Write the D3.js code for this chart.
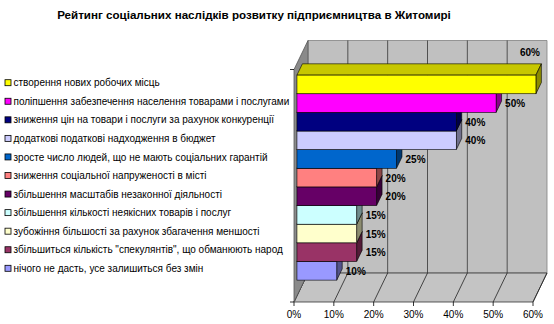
<!DOCTYPE html>
<html><head><meta charset="utf-8">
<script src="https://cdn.jsdelivr.net/npm/d3@7"></script>
<style>body{margin:0;background:#fff}svg{display:block}</style>
</head><body>
<script>
const categories = [
  "створення нових робочих місць",
  "поліпшення забезпечення населення товарами і послугами",
  "зниження цін на товари і послуги за рахунок конкуренції",
  "додаткові податкові надходження в бюджет",
  "зросте число людей, що не мають соціальних гарантій",
  "зниження соціальної напруженості в місті",
  "збільшення масштабів незаконної діяльності",
  "збільшення кількості неякісних товарів і послуг",
  "зубожіння більшості за рахунок збагачення меншості",
  "збільшиться кількість \"спекулянтів\", що обманюють народ",
  "нічого не дасть, усе залишиться без змін"
];
const values = [60, 50, 40, 40, 25, 20, 20, 15, 15, 15, 10];
const colors = ["#FFFF00","#FF00FF","#000080","#CCCCFF","#0066CC","#FF8080","#660066","#CCFFFF","#FFFFCC","#993366","#9999FF"];
const tickValues = [0, 10, 20, 30, 40, 50, 60];
const tickLabels = ["0%", "10%", "20%", "30%", "40%", "50%", "60%"];
const title = "Рейтинг соціальних наслідків розвитку підприємництва в Житомирі";

const Wd = 554, Ht = 324;
const svg = d3.select("body").append("svg").attr("width", Wd).attr("height", Ht);
const font = "Arial, 'Liberation Sans', sans-serif";

// 3D layout
const X0 = 294, Y0 = 302, PW = 239, H = 232.5, DX = 14, DY = -29;
const x = d3.scaleLinear().domain([0, 60]).range([X0, X0 + PW]);
const y = d3.scaleBand().domain(categories).range([81.2, 286.2]).padding(0);
const fFront = 0.21, fBack = 0.6;

svg.append("text").attr("x", 254).attr("y", 19).attr("text-anchor", "middle")
  .attr("font-family", font).attr("font-weight", "bold").attr("font-size", 11.6)
  .text(title);

const pts = a => a.map(p => p.join(",")).join(" ");
// back wall
svg.append("polygon").attr("points", pts([[X0+DX, Y0+DY],[X0+PW+DX, Y0+DY],[X0+PW+DX, Y0+DY-H],[X0+DX, Y0+DY-H]]))
  .attr("fill", "#C0C0C0").attr("stroke", "#808080").attr("stroke-width", 0.8);
svg.selectAll(".vg").data(tickValues.slice(1, -1)).join("line")
  .attr("x1", d => x(d)+DX).attr("x2", d => x(d)+DX).attr("y1", Y0+DY).attr("y2", Y0+DY-H)
  .attr("stroke", "#333").attr("stroke-width", 0.8);
// floor
svg.append("polygon").attr("points", pts([[X0, Y0],[X0+PW, Y0],[X0+PW+DX, Y0+DY],[X0+DX, Y0+DY]]))
  .attr("fill", "#C4C4C4").attr("stroke", "#333").attr("stroke-width", 0.8);
svg.selectAll(".fg").data(tickValues).join("line")
  .attr("x1", d => x(d)).attr("x2", d => x(d)+DX).attr("y1", Y0).attr("y2", Y0+DY)
  .attr("stroke", "#222").attr("stroke-width", 0.8);
// left wall
svg.append("polygon").attr("points", pts([[X0, Y0],[X0, Y0-H],[X0+DX, Y0+DY-H],[X0+DX, Y0+DY]]))
  .attr("fill", "#8A8A8A").attr("stroke", "#555").attr("stroke-width", 0.8);

// bars, painted bottom to top
const idx = d3.range(values.length).reverse();
const g = svg.append("g");
idx.forEach(i => {
  const v = values[i], c = d3.color(colors[i]);
  const ox = fFront*DX, oy = fFront*DY;
  const bx = (fBack-fFront)*DX, by = (fBack-fFront)*DY;
  const x0 = x(0)+ox, x1 = x(v)+ox, yt = y(categories[i])+oy, yb = yt + y.bandwidth();
  const side = d3.rgb(c.r*0.55, c.g*0.55, c.b*0.55);
  const top = d3.rgb(c.r*0.78, c.g*0.78, c.b*0.78);
  g.append("polygon").attr("points", pts([[x0, yt],[x1, yt],[x1+bx, yt+by],[x0+bx, yt+by]]))
    .attr("fill", top).attr("stroke", "#000").attr("stroke-width", 0.6);
  g.append("polygon").attr("points", pts([[x1, yt],[x1+bx, yt+by],[x1+bx, yb+by],[x1, yb]]))
    .attr("fill", side).attr("stroke", "#000").attr("stroke-width", 0.6);
  g.append("rect").attr("x", x0).attr("y", yt).attr("width", x1-x0).attr("height", yb-yt)
    .attr("fill", colors[i]).attr("stroke", "#000").attr("stroke-width", 0.6);
});

// data labels
const wallRight = X0 + PW + DX;
values.forEach((v, i) => {
  const ox = fFront*DX, oy = fFront*DY;
  const yt = y(categories[i]) + oy;
  let lx = x(v) + ox + 9, ly = yt + y.bandwidth()/2 + 4;
  const t = svg.append("text").attr("font-family", font).attr("font-weight", "bold")
    .attr("font-size", 10).attr("fill", "#000").text(v + "%");
  const w = t.node().getComputedTextLength();
  if (lx + w > wallRight) { lx = wallRight - w - 7; ly = yt + (fBack-fFront)*DY - 8; }
  t.attr("x", lx).attr("y", ly);
});

// axis ticks and labels
svg.selectAll(".tk").data(tickValues).join("line")
  .attr("x1", d => x(d)).attr("x2", d => x(d)).attr("y1", Y0).attr("y2", Y0+4)
  .attr("stroke", "#000").attr("stroke-width", 0.8);
svg.selectAll(".tl").data(tickValues).join("text")
  .attr("x", d => x(d)).attr("y", Y0+16).attr("text-anchor", "middle")
  .attr("font-family", font).attr("font-size", 10).text((d, i) => tickLabels[i]);
[Y0, Y0-H].forEach(yy => svg.append("line").attr("x1", X0-4).attr("x2", X0).attr("y1", yy).attr("y2", yy)
  .attr("stroke", "#000").attr("stroke-width", 0.8));

// legend
const ly0 = 82.7, lstep = 18.56;
const lg = svg.append("g");
categories.forEach((c, i) => {
  const cy = ly0 + i*lstep;
  lg.append("rect").attr("x", 5).attr("y", cy-3).attr("width", 6).attr("height", 6)
    .attr("fill", colors[i]).attr("stroke", "#000").attr("stroke-width", 0.8);
  lg.append("text").attr("x", 13.5).attr("y", cy+3.6).attr("font-family", font)
    .attr("font-size", 10).attr("fill", "#000").text(c);
});
</script>
</body></html>
